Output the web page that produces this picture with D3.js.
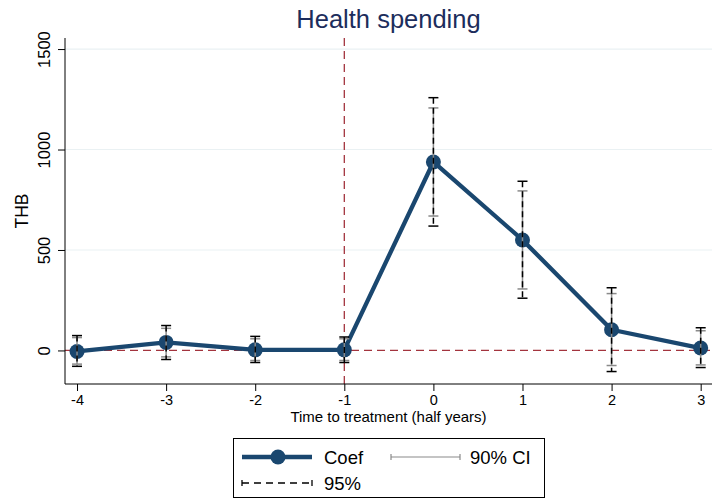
<!DOCTYPE html>
<html>
<head>
<meta charset="utf-8">
<script src="https://cdn.jsdelivr.net/npm/d3@7"></script>
<style>
  body { margin: 0; background: #fff; }
  svg { display: block; font-family: "Liberation Sans", Arial, sans-serif; }
</style>
</head>
<body>
<svg id="chart" width="719" height="501"></svg>
<script>
// Event study: health spending (THB) by half-years to treatment

const periods = [-4, -3, -2, -1, 0, 1, 2, 3];
const coef = [-5, 40, 3, 3, 938, 550, 103, 12];
const ci90Low = [-68, -32, -50, -50, 669, 306, -75, -72];
const ci90High = [64, 110, 58, 58, 1207, 794, 283, 98];
const ci95Low = [-79, -45, -60, -60, 619, 260, -105, -85];
const ci95High = [74, 124, 70, 67, 1258, 842, 312, 113];
const yTicks = [0, 500, 1000, 1500];
const treatPeriod = -1;

const rows = periods.map((p, i) => ({
  p,
  b: coef[i],
  lo90: ci90Low[i],
  hi90: ci90High[i],
  lo95: ci95Low[i],
  hi95: ci95High[i],
}));

const svg = d3.select("#chart");
const navy = "#1a476f";
const red = "#a3343e";

// plot area
const plotL = 65, plotR = 712, plotT = 38, plotB = 384;

const x = d3.scaleLinear().domain([-4.135, 3.127]).range([plotL, plotR]);
const y = d3.scaleLinear().domain([-167, 1555]).range([plotB, plotT]);

// grid
svg.append("g")
  .selectAll("line")
  .data(yTicks.filter((d) => d > 0))
  .join("line")
  .attr("x1", plotL)
  .attr("x2", plotR)
  .attr("y1", (d) => y(d))
  .attr("y2", (d) => y(d))
  .attr("stroke", "#eaf1f3")
  .attr("stroke-width", 1.2);

// reference lines
svg.append("line")
  .attr("x1", plotL).attr("x2", plotR)
  .attr("y1", y(0)).attr("y2", y(0))
  .attr("stroke", red).attr("stroke-width", 1.3)
  .attr("stroke-dasharray", "8,5");

svg.append("line")
  .attr("x1", x(treatPeriod)).attr("x2", x(treatPeriod))
  .attr("y1", plotT).attr("y2", plotB)
  .attr("stroke", red).attr("stroke-width", 1.3)
  .attr("stroke-dasharray", "8,5");

// axes
const fmt = (d) => String(d);
const yAxis = d3.axisLeft(y).tickValues(yTicks).tickFormat(fmt).tickSize(7).tickSizeOuter(0);
const yAxisG = svg.append("g")
  .attr("transform", `translate(${plotL},0)`)
  .call(yAxis);
yAxisG.select(".domain").attr("d", `M0,${plotT}V${plotB}`).attr("stroke", "#000");
yAxisG.selectAll(".tick line").attr("stroke", "#000");
yAxisG.selectAll(".tick text")
  .attr("font-size", 16.5)
  .attr("fill", "#000")
  .attr("transform", "rotate(-90)")
  .attr("x", 0)
  .attr("y", -15)
  .attr("dy", "0")
  .attr("text-anchor", "middle");

const xAxis = d3.axisBottom(x).tickValues(periods).tickFormat(fmt).tickSize(7).tickSizeOuter(0);
const xAxisG = svg.append("g")
  .attr("transform", `translate(0,${plotB})`)
  .call(xAxis);
xAxisG.select(".domain").attr("d", `M${plotL},0H${plotR}`).attr("stroke", "#000");
xAxisG.selectAll(".tick line").attr("stroke", "#000");
xAxisG.selectAll(".tick text")
  .attr("font-size", 14.5)
  .attr("fill", "#000")
  .attr("y", 11);

// labels
svg.append("text")
  .attr("x", (plotL + plotR) / 2)
  .attr("y", 28)
  .attr("text-anchor", "middle")
  .attr("font-size", 25.5)
  .attr("fill", "#1c2d5c")
  .text("Health spending");

svg.append("text")
  .attr("transform", `translate(28,${(plotT + plotB) / 2}) rotate(-90)`)
  .attr("text-anchor", "middle")
  .attr("font-size", 17.5)
  .attr("fill", "#000")
  .text("THB");

svg.append("text")
  .attr("x", (plotL + plotR) / 2)
  .attr("y", 422)
  .attr("text-anchor", "middle")
  .attr("font-size", 15)
  .attr("fill", "#000")
  .text("Time to treatment (half years)");

// coef line
const line = d3.line().x((d) => x(d.p)).y((d) => y(d.b));
svg.append("path")
  .datum(rows)
  .attr("d", line)
  .attr("fill", "none")
  .attr("stroke", navy)
  .attr("stroke-width", 4.3)
  .attr("stroke-linejoin", "round");

svg.append("g")
  .selectAll("circle")
  .data(rows)
  .join("circle")
  .attr("cx", (d) => x(d.p))
  .attr("cy", (d) => y(d.b))
  .attr("r", 7.5)
  .attr("fill", navy);

// 90% CI (gray caps)
const cap = 5;
const g90 = svg.append("g").attr("stroke", "#8a8a8a").attr("stroke-width", 1.5);
rows.forEach((d) => {
  const cx = x(d.p);
  g90.append("line").attr("x1", cx).attr("x2", cx).attr("y1", y(d.lo90)).attr("y2", y(d.hi90));
  g90.append("line").attr("x1", cx - cap).attr("x2", cx + cap).attr("y1", y(d.lo90)).attr("y2", y(d.lo90));
  g90.append("line").attr("x1", cx - cap).attr("x2", cx + cap).attr("y1", y(d.hi90)).attr("y2", y(d.hi90));
});

// 95% CI (black dashed caps)
const g95 = svg.append("g").attr("stroke", "#000").attr("stroke-width", 1.5);
rows.forEach((d) => {
  const cx = x(d.p);
  g95.append("line").attr("x1", cx).attr("x2", cx).attr("y1", y(d.hi95)).attr("y2", y(d.lo95))
    .attr("stroke-dasharray", "6,4");
  g95.append("line").attr("x1", cx - cap).attr("x2", cx + cap).attr("y1", y(d.lo95)).attr("y2", y(d.lo95));
  g95.append("line").attr("x1", cx - cap).attr("x2", cx + cap).attr("y1", y(d.hi95)).attr("y2", y(d.hi95));
});

// legend
const lg = svg.append("g");
lg.append("rect")
  .attr("x", 233.5).attr("y", 438.5)
  .attr("width", 311).attr("height", 59)
  .attr("fill", "#fff").attr("stroke", "#000").attr("stroke-width", 1);

const r1 = 457, r2 = 483;
lg.append("line").attr("x1", 242).attr("x2", 312).attr("y1", r1).attr("y2", r1)
  .attr("stroke", navy).attr("stroke-width", 4.3);
lg.append("circle").attr("cx", 278).attr("cy", r1).attr("r", 7.5).attr("fill", navy);
lg.append("text").attr("x", 324).attr("y", r1 + 6.5).attr("font-size", 18.5).text("Coef");

lg.append("line").attr("x1", 391).attr("x2", 460).attr("y1", r1).attr("y2", r1)
  .attr("stroke", "#8a8a8a").attr("stroke-width", 1.2);
lg.append("line").attr("x1", 391).attr("x2", 391).attr("y1", r1 - 3).attr("y2", r1 + 3)
  .attr("stroke", "#8a8a8a").attr("stroke-width", 1.2);
lg.append("line").attr("x1", 460).attr("x2", 460).attr("y1", r1 - 3).attr("y2", r1 + 3)
  .attr("stroke", "#8a8a8a").attr("stroke-width", 1.2);
lg.append("text").attr("x", 470).attr("y", r1 + 6.5).attr("font-size", 18.5).text("90% CI");

lg.append("line").attr("x1", 242).attr("x2", 312).attr("y1", r2).attr("y2", r2)
  .attr("stroke", "#000").attr("stroke-width", 1.3).attr("stroke-dasharray", "7,5");
lg.append("line").attr("x1", 242).attr("x2", 242).attr("y1", r2 - 3).attr("y2", r2 + 3)
  .attr("stroke", "#000").attr("stroke-width", 1.3);
lg.append("line").attr("x1", 312).attr("x2", 312).attr("y1", r2 - 3).attr("y2", r2 + 3)
  .attr("stroke", "#000").attr("stroke-width", 1.3);
lg.append("text").attr("x", 324).attr("y", r2 + 6.5).attr("font-size", 18.5).text("95%");
</script>
</body>
</html>
